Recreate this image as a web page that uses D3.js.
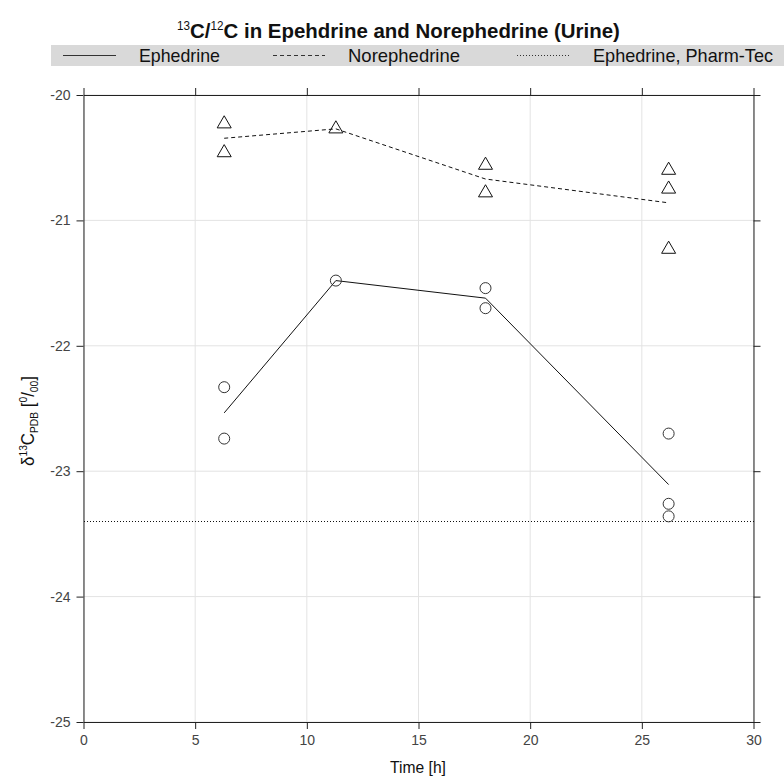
<!DOCTYPE html>
<html>
<head>
<meta charset="utf-8">
<script src="https://cdn.jsdelivr.net/npm/d3@7"></script>
<style>
  body { margin: 0; background: #fff; }
  text { font-family: "Liberation Sans", Arial, sans-serif; }
</style>
</head>
<body>
<svg id="chart" width="784" height="778"></svg>
<script>
var ephTime = [6.3, 6.3, 11.3, 18, 18, 26.2, 26.2, 26.2];
var ephValue = [-22.33, -22.74, -21.48, -21.54, -21.70, -22.70, -23.26, -23.36];
var norTime = [6.3, 6.3, 11.3, 18, 18, 26.2, 26.2, 26.2];
var norValue = [-20.23, -20.46, -20.27, -20.56, -20.78, -20.60, -20.75, -21.23];
var pharmTec = -23.4;
var xTicks = [0, 5, 10, 15, 20, 25, 30];
var yTicks = [-20, -21, -22, -23, -24, -25];
var legendLabels = ["Ephedrine", "Norephedrine", "Ephedrine, Pharm-Tec"];

var svg = d3.select("#chart");
var plotLeft = 83.5, plotRight = 753.5, plotTop = 95, plotBottom = 722;

var x = d3.scaleLinear().domain([0, 30]).range([plotLeft, plotRight]);
var y = d3.scaleLinear().domain([-25, -20]).range([plotBottom, plotTop]);

// squeeze a text horizontally so it fills the given width (narrow helvetica look)
function fitWidth(sel, cx, cy, w) {
  var bw = sel.node().getBBox().width;
  sel.attr("transform", "translate(" + cx + "," + cy + ") scale(" + (w / bw) + ",1)");
}

// grid
svg.append("g").selectAll("line").data(xTicks).enter().append("line")
  .attr("x1", function(d) { return x(d); }).attr("x2", function(d) { return x(d); })
  .attr("y1", plotTop).attr("y2", plotBottom)
  .attr("stroke", "#e3e3e3");
svg.append("g").selectAll("line").data(yTicks).enter().append("line")
  .attr("y1", function(d) { return y(d); }).attr("y2", function(d) { return y(d); })
  .attr("x1", plotLeft).attr("x2", plotRight)
  .attr("stroke", "#e3e3e3");

// axes on all four sides
function styleAxis(g) {
  g.selectAll("path").attr("stroke", "#222");
  g.selectAll("line").attr("stroke", "#222");
  g.selectAll("text").attr("fill", "#444").attr("font-size", "14px");
}
svg.append("g").attr("transform", "translate(0," + plotBottom + ")")
  .call(d3.axisBottom(x).tickValues(xTicks).tickSizeOuter(0).tickSizeInner(7).tickPadding(6))
  .call(styleAxis);
svg.append("g").attr("transform", "translate(0," + plotTop + ")")
  .call(d3.axisTop(x).tickValues(xTicks).tickSizeOuter(0).tickSizeInner(7).tickFormat(""))
  .call(styleAxis);
svg.append("g").attr("transform", "translate(" + plotLeft + ",0)")
  .call(d3.axisLeft(y).tickValues(yTicks).tickSizeOuter(0).tickSizeInner(7).tickPadding(6)
    .tickFormat(function(d) { return "-" + Math.abs(d); }))
  .call(styleAxis);
svg.append("g").attr("transform", "translate(" + plotRight + ",0)")
  .call(d3.axisRight(y).tickValues(yTicks).tickSizeOuter(0).tickSizeInner(7).tickFormat(""))
  .call(styleAxis);

// lines through the mean of each time point
function means(ts, vs) {
  var groups = d3.rollups(d3.range(ts.length), function(idx) {
    return d3.mean(idx, function(i) { return vs[i]; });
  }, function(i) { return ts[i]; });
  return groups.sort(function(a, b) { return a[0] - b[0]; });
}
var line = d3.line().x(function(d) { return x(d[0]); }).y(function(d) { return y(d[1]); });

svg.append("path").datum(means(ephTime, ephValue)).attr("d", line)
  .attr("fill", "none").attr("stroke", "#111").attr("stroke-width", 1);
svg.append("path").datum(means(norTime, norValue)).attr("d", line)
  .attr("fill", "none").attr("stroke", "#111").attr("stroke-width", 1)
  .attr("stroke-dasharray", "4,3");
var ph = Math.round(y(pharmTec)) + 0.5;
svg.append("line")
  .attr("x1", x(0)).attr("x2", x(30)).attr("y1", ph).attr("y2", ph)
  .attr("stroke", "#111").attr("stroke-width", 1).attr("stroke-dasharray", "1,2")
  .attr("shape-rendering", "crispEdges");

// points
svg.append("g").selectAll("circle").data(d3.range(ephTime.length)).enter().append("circle")
  .attr("cx", function(i) { return x(ephTime[i]); })
  .attr("cy", function(i) { return y(ephValue[i]); })
  .attr("r", 5.5).attr("fill", "none").attr("stroke", "#333").attr("stroke-width", 1);

var tri = d3.symbol().type(d3.symbolTriangle).size(85);
svg.append("g").selectAll("path").data(d3.range(norTime.length)).enter().append("path")
  .attr("d", tri)
  .attr("transform", function(i) { return "translate(" + x(norTime[i]) + "," + y(norValue[i]) + ")"; })
  .attr("fill", "none").attr("stroke", "#111").attr("stroke-width", 1);

// title
var title = svg.append("text").attr("text-anchor", "middle")
  .attr("font-size", "21px").attr("font-weight", "bold").attr("fill", "#111");
title.append("tspan").text("13").attr("font-size", "12px").attr("font-weight", "normal").attr("dy", "-8");
title.append("tspan").text("C/").attr("dy", "8");
title.append("tspan").text("12").attr("font-size", "12px").attr("font-weight", "normal").attr("dy", "-8");
title.append("tspan").text("C in Epehdrine and Norephedrine (Urine)").attr("dy", "8");
fitWidth(title, 398.5, 38, 443);

// legend band
svg.append("rect").attr("x", 51).attr("y", 45).attr("width", 733).attr("height", 21).attr("fill", "#d9d9d9");
var legendItems = [
  { x1: 63, x2: 116, tx: 139, tw: 81, dash: null },
  { x1: 273, x2: 325, tx: 348, tw: 112, dash: "4,3" },
  { x1: 517, x2: 570, tx: 593, tw: 180, dash: "1,2" }
];
legendItems.forEach(function(it, i) {
  svg.append("line").attr("x1", it.x1).attr("x2", it.x2).attr("y1", 55.5).attr("y2", 55.5)
    .attr("stroke", "#333").attr("stroke-width", 1).attr("stroke-dasharray", it.dash)
    .attr("shape-rendering", "crispEdges");
  svg.append("text").attr("x", it.tx).attr("y", 62).attr("font-size", "19px").attr("fill", "#111")
    .attr("textLength", it.tw).attr("lengthAdjust", "spacingAndGlyphs")
    .text(legendLabels[i]);
});

// axis titles
var xl = svg.append("text").attr("text-anchor", "middle")
  .attr("font-size", "17px").attr("fill", "#111").text("Time [h]");
fitWidth(xl, 418, 773, 56);

var yl = svg.append("text").attr("text-anchor", "middle").attr("font-size", "18px").attr("fill", "#111");
yl.append("tspan").text("\u03b4");
yl.append("tspan").text("13").attr("font-size", "11px").attr("dy", "-7");
yl.append("tspan").text("C").attr("dy", "7");
yl.append("tspan").text("PDB").attr("font-size", "11px").attr("dy", "4");
yl.append("tspan").text(" [").attr("dy", "-4");
yl.append("tspan").text("0").attr("font-size", "11px").attr("dy", "-7");
yl.append("tspan").text("/").attr("dy", "7");
yl.append("tspan").text("00").attr("font-size", "11px").attr("dy", "4");
yl.append("tspan").text("]").attr("dy", "-4");
var ylw = yl.node().getBBox().width;
yl.attr("transform", "translate(34,421) rotate(-90) scale(" + (90 / ylw) + ",1)");
</script>
</body>
</html>
